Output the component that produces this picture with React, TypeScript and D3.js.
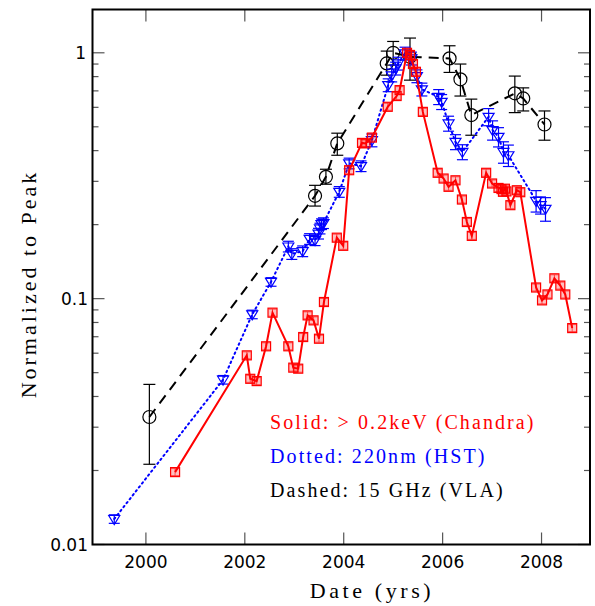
import React from 'react';
import * as d3 from 'd3';

// 15 GHz (VLA) - dashed, circles
const vlaT = [2000.07, 2003.42, 2003.64, 2003.87, 2004.87, 2005.0, 2005.34, 2006.14, 2006.36, 2006.58, 2007.46, 2007.63, 2008.06];
const vlaV = [0.033, 0.262, 0.313, 0.428, 0.905, 1.0, 0.963, 0.949, 0.78, 0.558, 0.684, 0.652, 0.511];
const vlaHi = [0.0448, 0.289, 0.336, 0.471, 1.016, 1.112, 1.148, 1.068, 0.9, 0.648, 0.804, 0.72, 0.58];
const vlaLo = [0.0212, 0.238, 0.292, 0.383, 0.811, 0.891, 0.774, 0.832, 0.667, 0.462, 0.571, 0.58, 0.441];

// 220nm (HST) - dotted, triangles
const hstT = [1999.36, 2001.56, 2002.15, 2002.53, 2002.88, 2002.95, 2003.17, 2003.31, 2003.42, 2003.49, 2003.52, 2003.55, 2003.59,
  2003.91, 2004.11, 2004.35, 2004.57, 2004.9, 2004.97, 2005.05, 2005.1, 2005.24, 2005.37, 2005.48, 2005.58, 2005.92, 2005.98,
  2006.12, 2006.26, 2006.4, 2006.93, 2007.01, 2007.13, 2007.23, 2007.33, 2007.89, 2007.98, 2008.08];
const hstV = [0.0127, 0.0468, 0.0863, 0.117, 0.163, 0.152, 0.156, 0.175, 0.173, 0.184, 0.193, 0.201, 0.203,
  0.272, 0.355, 0.346, 0.441, 0.739, 0.81, 0.864, 0.905, 0.994, 0.949, 0.804, 0.71, 0.662, 0.632,
  0.516, 0.434, 0.395, 0.549, 0.485, 0.455, 0.395, 0.383, 0.25, 0.24, 0.232];
const hstErr = [0.04, 0.04, 0.04, 0.04, 0.05, 0.05, 0.05, 0.05, 0.05, 0.05, 0.05, 0.05, 0.05,
  0.05, 0.05, 0.05, 0.06, 0.06, 0.06, 0.06, 0.06, 0.06, 0.06, 0.06, 0.06, 0.07, 0.07,
  0.07, 0.07, 0.07, 0.08, 0.09, 0.09, 0.1, 0.1, 0.1, 0.08, 0.11];

// > 0.2keV (Chandra) - solid, squares
const cxoT = [2000.59, 2002.04, 2002.11, 2002.24, 2002.43, 2002.56, 2002.88, 2002.98, 2003.08, 2003.18, 2003.27, 2003.39, 2003.5,
  2003.6, 2003.86, 2003.99, 2004.11, 2004.37, 2004.44, 2004.57, 2004.89, 2005.07, 2005.13, 2005.28, 2005.34, 2005.4, 2005.46,
  2005.6, 2005.9, 2006.02, 2006.12, 2006.26, 2006.39, 2006.49, 2006.59, 2006.88, 2007.0, 2007.13, 2007.19, 2007.22, 2007.26,
  2007.29, 2007.37, 2007.5, 2007.57, 2007.89, 2008.01, 2008.12, 2008.26, 2008.38, 2008.48, 2008.62];
const cxoV = [0.0197, 0.0588, 0.0472, 0.0462, 0.064, 0.0877, 0.064, 0.0524, 0.0519, 0.0698, 0.0855, 0.0816, 0.0687,
  0.0969, 0.177, 0.164, 0.333, 0.43, 0.428, 0.452, 0.603, 0.667, 0.705, 1.0, 0.98, 0.9, 0.837,
  0.575, 0.325, 0.308, 0.285, 0.303, 0.253, 0.205, 0.18, 0.325, 0.294, 0.282, 0.279, 0.272, 0.28,
  0.273, 0.24, 0.276, 0.271, 0.111, 0.0984, 0.104, 0.121, 0.113, 0.104, 0.0759];

const xTicks = [2000, 2002, 2004, 2006, 2008];
const yMajor = [1, 0.1, 0.01];
const yLabels = ['1', '0.1', '0.01'];

const W = 595, H = 606;
const L = 92.5, R = 590, T = 9.5, B = 544.5;

export default function App() {
  const x = d3.scaleLinear().domain([1998.92, 2008.98]).range([L, R]);
  const y = d3.scaleLog().domain([0.01, 1.5]).range([B, T]);

  const yMinor: number[] = [];
  [0.01, 0.1, 1].forEach(d => {
    for (let k = 2; k <= 9; k++) if (d * k < 1.5) yMinor.push(d * k);
  });

  const line = d3.line<[number, number]>().x(d => x(d[0])).y(d => y(d[1]));
  const vlaPts = vlaT.map((t, i) => [t, vlaV[i]] as [number, number]);
  const hstPts = hstT.map((t, i) => [t, hstV[i]] as [number, number]);
  const cxoPts = cxoT.map((t, i) => [t, cxoV[i]] as [number, number]);

  const errBar = (cx: number, y1: number, y2: number, w: number, color: string, key: string, sw = 1.2) => (
    <g key={key} stroke={color} strokeWidth={sw}>
      <line x1={cx} x2={cx} y1={y1} y2={y2} />
      <line x1={cx - w / 2} x2={cx + w / 2} y1={y1} y2={y1} />
      <line x1={cx - w / 2} x2={cx + w / 2} y1={y2} y2={y2} />
    </g>
  );

  const serif = '"Liberation Serif", serif';
  const sans = '"DejaVu Sans", sans-serif';

  return (
    <svg width={W} height={H} style={{ position: 'absolute', left: 0, top: 0, background: '#fff' }}>
      <rect width={W} height={H} fill="#fff" />
      {/* ticks */}
      <g stroke="#555" strokeWidth={1.2}>
        {xTicks.map(t => (
          <g key={'xt' + t}>
            <line x1={x(t)} x2={x(t)} y1={B} y2={B - 12} />
            <line x1={x(t)} x2={x(t)} y1={T} y2={T + 12} />
          </g>
        ))}
        {yMajor.map(v => (
          <g key={'ym' + v}>
            <line x1={L} x2={L + 12} y1={y(v)} y2={y(v)} />
            <line x1={R} x2={R - 12} y1={y(v)} y2={y(v)} />
          </g>
        ))}
        {yMinor.map(v => (
          <g key={'yn' + v}>
            <line x1={L} x2={L + 6} y1={y(v)} y2={y(v)} />
            <line x1={R} x2={R - 6} y1={y(v)} y2={y(v)} />
          </g>
        ))}
      </g>
      <rect x={L} y={T} width={R - L} height={B - T} fill="none" stroke="#000" strokeWidth={2} />

      {/* tick labels */}
      <g fontFamily={sans} fontSize={17} fill="#000">
        {xTicks.map(t => (
          <text key={'xl' + t} x={x(t)} y={568} textAnchor="middle">{t}</text>
        ))}
        {yMajor.map((v, i) => (
          <text key={'yl' + v} x={i === 0 ? 86 : 88} y={y(v) + 6} textAnchor="end">{yLabels[i]}</text>
        ))}
      </g>
      <text x={372} y={598} textAnchor="middle" fontFamily={serif} fontSize={22} letterSpacing={3.6}>Date (yrs)</text>
      <text transform={`translate(36,284) rotate(-90)`} textAnchor="middle" fontFamily={serif} fontSize={22} letterSpacing={3}>Normalized to Peak</text>

      {/* VLA */}
      <path d={line(vlaPts) || ''} fill="none" stroke="#000" strokeWidth={2} strokeDasharray="10,7" />
      {vlaT.map((t, i) => (
        <g key={'v' + i}>
          {errBar(x(t), y(vlaHi[i]), y(vlaLo[i]), 12, '#000', 've' + i)}
          <circle cx={x(t)} cy={y(vlaV[i])} r={6.5} fill="none" stroke="#000" strokeWidth={1.2} />
        </g>
      ))}

      {/* HST */}
      <path d={line(hstPts) || ''} fill="none" stroke="#0000ff" strokeWidth={2} strokeDasharray="1.5,3.5" strokeLinecap="round" />
      {hstT.map((t, i) => {
        const cx = x(t), cy = y(hstV[i]);
        return (
          <g key={'h' + i}>
            {errBar(cx, y(hstV[i] * (1 + hstErr[i])), y(hstV[i] * (1 - hstErr[i])), 11, '#0000ff', 'he' + i)}
            <path d={`M${cx - 5.5},${cy - 3.5}L${cx + 5.5},${cy - 3.5}L${cx},${cy + 5.5}Z`} fill="none" stroke="#0000ff" strokeWidth={1.2} />
          </g>
        );
      })}

      {/* Chandra */}
      <path d={line(cxoPts) || ''} fill="none" stroke="#ff0000" strokeWidth={2} />
      {cxoT.map((t, i) => {
        const cx = x(t), cy = y(cxoV[i]);
        return (
          <g key={'c' + i}>
            <rect x={cx - 4.5} y={cy - 4.5} width={9} height={9} fill="rgba(255,0,0,0.25)" stroke="#ff0000" strokeWidth={1.2} />
            {errBar(cx, cy - 3.5, cy + 3.5, 8, 'rgba(255,0,0,0.6)', 'ce' + i, 1)}
          </g>
        );
      })}

      {/* legend */}
      <g fontFamily={serif} fontSize={20} letterSpacing={2.1}>
        <text x={270} y={429} fill="#ff0000">Solid: &gt; 0.2keV (Chandra)</text>
        <text x={270} y={463} fill="#0000ff">Dotted: 220nm (HST)</text>
        <text x={270} y={497} fill="#000">Dashed: 15 GHz (VLA)</text>
      </g>
    </svg>
  );
}
